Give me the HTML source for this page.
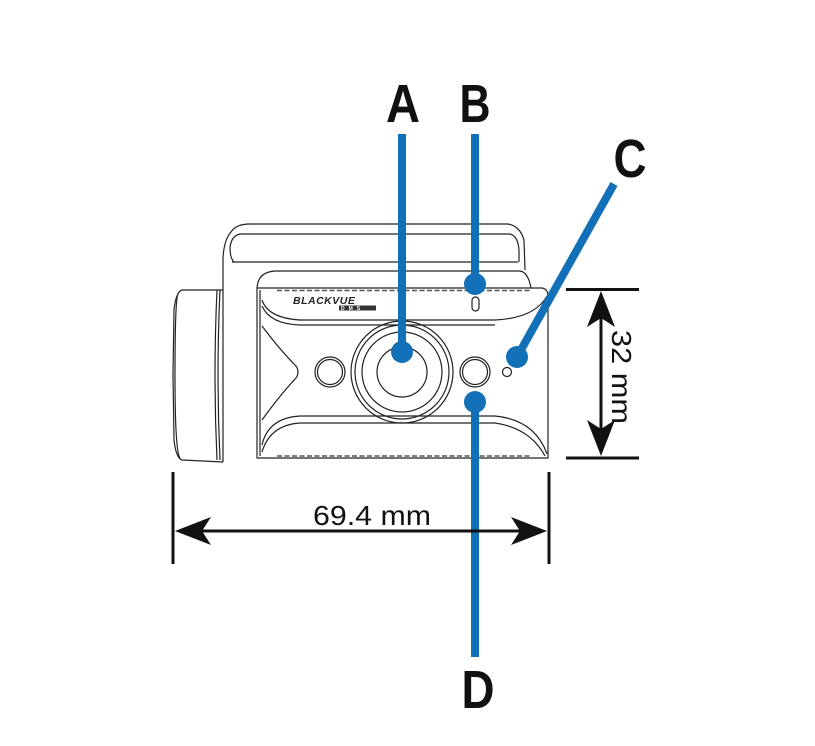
<!DOCTYPE html>
<html><head><meta charset="utf-8"><style>
html,body{margin:0;padding:0;background:#fff;}
svg{display:block;}
</style></head><body>
<svg width="815" height="746" viewBox="0 0 815 746" xmlns="http://www.w3.org/2000/svg">
<g fill="none" stroke="#222" stroke-width="1.2" stroke-linejoin="round">
  <!-- mount top -->
  <path d="M223 462 L223 258 Q224 240 231 232 Q236 224 250 224 L508 224 Q520 226 524 240 L525 270"/>
  <path d="M234 262 Q230 258 230 248 Q231 236 240 234 L510 234 Q518 236 519 250 L519 262"/>
  <path d="M232 262 L518 262"/>
  <!-- cylinder -->
  <path d="M223 290 L182 290 Q176 292 174 310 L173 375 L174 440 Q176 458 182 460 L223 462"/>
  <path d="M178 294 Q175 300 175 375 Q175 452 180 458"/>
  <path d="M217 290 Q213 375 217 460"/>
  <path d="M220 290 Q216 375 220 460"/>
  <!-- shoulder behind face -->
  <path d="M257 288 Q258 272 275 271 L520 271 Q528 272 531 288"/>
  <!-- front face -->
  <path d="M257 288 L542 288 Q548 289 548 296 L548 458 L257 458 Z"/>
  <path d="M260 290 L260 456"/>
  <!-- top band lower edge -->
  <path d="M262 300 Q268 318 300 320 L495 320 Q535 318 547 296"/>
  <path d="M262 306 Q270 324 300 325 L495 325"/>
  <!-- bottom band -->
  <path d="M262 445 Q268 418 300 416 L495 416 Q535 420 547 454"/>
  <path d="M262 452 Q270 425 300 423 L495 423 Q530 428 545 456"/>
  <!-- chevron -->
  <path d="M262 326 Q280 350 296 366 Q300 372 296 378 Q280 395 262 420"/>
  <!-- lens -->
  <circle cx="402" cy="372" r="51"/>
  <circle cx="402" cy="372" r="47"/>
  <circle cx="402" cy="372" r="40"/>
  <circle cx="402" cy="372" r="25"/>
  <!-- IR -->
  <circle cx="330" cy="372" r="15"/>
  <circle cx="330" cy="372" r="12.5"/>
  <circle cx="475" cy="372" r="15"/>
  <circle cx="475" cy="372" r="12.5"/>
  <circle cx="507" cy="372" r="4.5"/>
  <!-- LED slot -->
  <rect x="472" y="297" width="7" height="14" rx="3.5"/>
</g>
<!-- dots along edges -->
<g fill="#fff" stroke="#444" stroke-width="0.9">
  <g id="dots">
  </g>
</g>
<g fill="none" stroke="#555" stroke-width="1.6" stroke-dasharray="5 2.5">
  <path d="M277 290.5 L530 290.5"/>
  <path d="M277 456 L530 456"/>
</g>
<!-- logo -->
<text x="293" y="304" font-family="Liberation Sans, sans-serif" font-size="10.5" font-weight="bold" font-style="italic" fill="#222" letter-spacing="0.5">BLACKVUE</text>
<rect x="339" y="305.5" width="37" height="5" fill="#333"/>
<text x="341" y="310" font-family="Liberation Sans, sans-serif" font-size="5" font-weight="bold" fill="#fff" letter-spacing="4">DMS</text>

<!-- blue callouts -->
<g stroke="#1270b8" stroke-width="8" fill="none">
  <line x1="402" y1="134" x2="402" y2="352"/>
  <line x1="475" y1="134" x2="475" y2="284"/>
  <line x1="614" y1="184" x2="517" y2="357"/>
  <line x1="475" y1="402" x2="475" y2="657"/>
</g>
<g fill="#1270b8">
  <circle cx="402" cy="352" r="11"/>
  <circle cx="475" cy="284" r="11"/>
  <circle cx="517" cy="357" r="11"/>
  <circle cx="475" cy="402" r="11"/>
</g>
<g font-family="Liberation Sans, sans-serif" font-weight="bold" font-size="54" fill="#111" text-anchor="middle">
  <text x="403" y="122" textLength="34" lengthAdjust="spacingAndGlyphs">A</text>
  <text x="475" y="122" textLength="31" lengthAdjust="spacingAndGlyphs">B</text>
  <text x="630" y="177" textLength="33" lengthAdjust="spacingAndGlyphs">C</text>
  <text x="478" y="708" textLength="33" lengthAdjust="spacingAndGlyphs">D</text>
</g>

<!-- dimensions -->
<g stroke="#111" stroke-width="3" fill="none">
  <line x1="173" y1="472" x2="173" y2="564"/>
  <line x1="549" y1="472" x2="549" y2="564"/>
  <line x1="180" y1="531" x2="542" y2="531"/>
  <line x1="566" y1="289.5" x2="639" y2="289.5"/>
  <line x1="566" y1="458" x2="639" y2="458"/>
  <line x1="601" y1="296" x2="601" y2="451"/>
</g>
<g fill="#111">
  <path d="M175 531 L211 517 L202 531 L211 545 Z"/>
  <path d="M547 531 L511 517 L520 531 L511 545 Z"/>
  <path d="M601 291 L587 327 L601 318 L615 327 Z"/>
  <path d="M601 456 L587 420 L601 429 L615 420 Z"/>
</g>
<text x="372" y="525" font-family="Liberation Sans, sans-serif" font-size="28" fill="#111" text-anchor="middle" textLength="118" lengthAdjust="spacingAndGlyphs">69.4 mm</text>
<text transform="translate(612 377) rotate(90)" x="0" y="0" font-family="Liberation Sans, sans-serif" font-size="28" fill="#111" text-anchor="middle" textLength="94" lengthAdjust="spacingAndGlyphs">32 mm</text>
</svg>
</body></html>
